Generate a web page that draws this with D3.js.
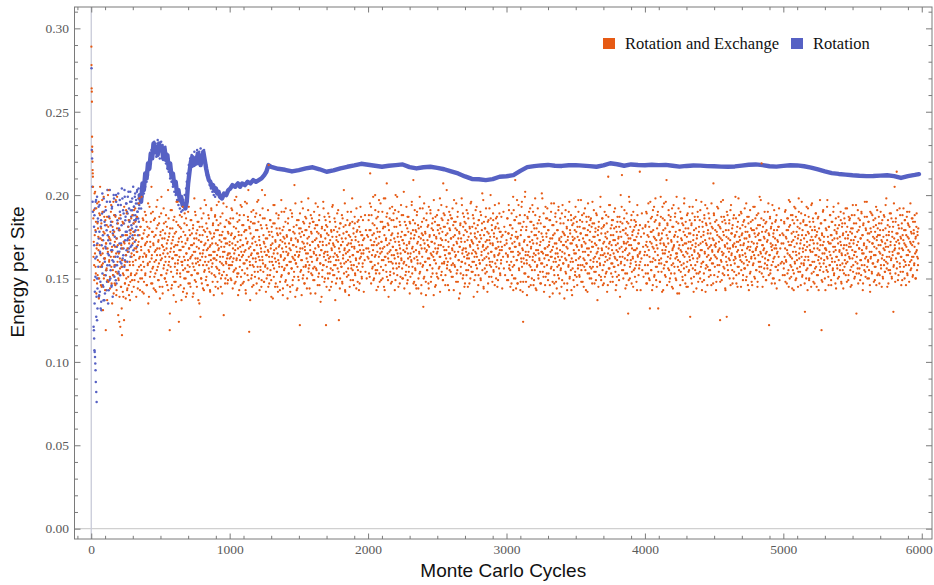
<!DOCTYPE html>
<html>
<head>
<meta charset="utf-8">
<script src="https://cdn.jsdelivr.net/npm/d3@7"></script>
<style>
  html, body { margin: 0; background: #fff; }
  svg { display: block; }
</style>
</head>
<body>
<svg id="chart" width="934" height="585"></svg>
<script>
// ---------------------------------------------------------------
// Data
// ---------------------------------------------------------------
const STEP = 3; // cycles between stored samples

// "Rotation and Exchange": first cycles, [cycle, energy]
const rotExFirst = [[1,0.289],[2,0.278],[3,0.264],[4,0.262],[5,0.256],[6,0.235],[7,0.229],[8,0.226],[9,0.220],[10,0.215],[11,0.213],[12,0.211],[13,0.205]];

// "Rotation and Exchange": energy x 1000, one sample every STEP cycles from the start cycle in the name
const rotEx_15 = [
186,172,158,201,165,179,153,192,168,147,183,161,175,196,150,170,188,157,164,180,
145,173,190,159,168,199,152,177,162,185,119,171,156,187,149,166,181,203,160,174,
151,178,163,194,147,169,184,155,176,141,188,158,172,146,197,165,143,180,153,170,
128,149,186,139,162,121,175,145,157,116,168,142,183,152,125,171,147,160,138,191,
155,176,144,166,151,185,140,173,158,148,179,153,165,142,188];
const rotEx_16 = [
163,191,149,176,202,157,184,141,170,195,152,180,167,138,189,160,205,174,146,183,
158,197,165,131,178,150,187,162,143,193,171,155,182,137,168,200,148,175,161,186,
144,173,190,157,166,135,181,152,196,163,178,147,169,187,154,140,174,199,160,183,
150,165,124,179,156,188,145,170,132,161,184,153,139,172,193,158,147,176,164,150,
189,143,168,155,181,146,171,160,137,177,152,186,163,149,174];

const rotEx_300 = [
171,158,183,164,149,176,192,161,168,153,187,166,144,179,172,157,198,163,150,181,
169,155,174,142,186,160,177,148,165,190,152,171,163,184,146,175,158,195,167,139,
180,160,172,154,189,205,164,147,178,157,170,185,151,166,143,176,161,193,155,168,
182,149,173,159,187,145,164,178,152,199,162,174,141,169,156,183,167,150,177,160,
188,153,171,146,165,203,158,175,163,119,180,157,168,144,191,162,173,151,185,166,
148,177,159,170,136,184,164,155,196,161,172,124,167,181,153,146,175,160,187,158,
169,142,178,163,150,189,156,171,139,165,182,154,174,161,147,193,168,157,176,145,
163,185,152,170,159,180,141,166,174,155,190,162,148,177,169,153,184,160,137,173,
158,181,165,127,172,150,186,163,176,144,167,179,154,197,160,171,149,183,158,175,
146,168,188,156,164,178,143,170,161,192,153,174,159,182,166,140,177,162,187,151,
171,157,185,164,148,179,167,196,155,173,160,183,145,169,176,152,189,163,158,128,
174,166,181,150,171,159,193,162,147,178,165,184,156,170];
const rotEx_301 = [
160,178,145,191,168,152,184,173,139,166,187,155,170,148,195,162,176,143,181,158,
167,199,150,174,163,185,141,157,179,170,153,188,164,146,172,181,159,135,176,166,
193,151,169,184,147,162,178,156,190,171,144,175,160,186,153,167,142,180,164,197,
157,172,149,183,168,138,176,161,189,152,170,145,179,165,192,158,174,150,163,184,
148,168,181,155,173,143,186,160,177,129,166,191,154,171,146,180,162,175,140,169,
187,157,164,148,178,196,153,170,159,182,145,174,163,188,151,167,180,137,172,160,
193,155,169,144,183,161,176,150,186,165,141,173,158,190,154,168,179,147,162,185,
170,152,177,164,139,182,157,171,198,149,166,188,159,174,145,179,162,153,184,168,
135,176,161,192,150,172,147,181,165,158,189,143,170,155,178,163,194,151,167,180,
146,173,160,186,154,169,142,177,164,191,157,171,148,183,162,175,152,166,188,145,
179,161,194,156,170,144,182,168,153,176,163,187,150,172,159,141,178,166,195,154,
169,181,147,174,160,185,152,171,164,149,177,158,183,162];

const rotEx_1000 = [
172,158,186,163,149,177,191,160,168,154,181,165,147,175,170,156,199,162,151,184,
168,153,176,143,188,161,173,146,166,193,155,170,164,182,148,178,159,196,167,141,
179,161,171,152,187,203,163,118,180,158,169,184,150,165,145,174,162,191,157,167,
183,151,172,160,189,147,165,179,154,197,163,175,143,170,157,182,166,149,203,161,
186,154,172,148,166,200,158,174,164,150,180,156,167,145,218,163,176,152,185,168,
149,178,160,171,138,183,165,156,194,162,173,147,168,180,154,145,176,161,188,159,
170,143,177,164,151,190,157,172,140,166,181,155,174,162,148,192,169,158,175,146,
164,186,153,171,160,179,142,167,173,156,189,163,149,178,170,154,206,161,139,174,
159,182,166,144,173,151,185,164,177,122,168,180,155,196,161,172,150,184,157,176,
147,169,187,157,165,179,144,171,160,191,154,175,158,183,167,141,178,163,186,152,
172,156,184,165,149,180,168,195,156,174,161,182,146,170,177,153,188,164,159,136,
175,167,180,151,172,158,192,163,148,179,166,185,122,170,157,181,164,150,176,162,
187,153,173,160,145,178,167,193,155,171,163,179,152,169,184,158,147,175,164,189,
156,172,161,125,180,166,150,183,170,157,174,148,186,162,177,203,159,168,143,182,
165,154,178,170,190,161,152,176,167,145,183,160,171,156,173,198,164,149,180,158,
169,187,153,175,162,144,178,166,184,155,172,159,181,147,167,193,163,176,151,170,
157,185,165,142,174,161,188,154,179,168,150,176,163];
const rotEx_1001 = [
165,183,150,176,192,158,171,144,186,162,174,155,197,167,148,180,161,189,153,172,
140,178,164,185,157,169,194,151,176,163,182,147,170,159,188,166,153,179,143,174,
161,195,156,172,185,149,168,181,160,137,177,164,190,152,171,158,183,146,175,167,
154,187,162,179,141,170,196,157,165,184,150,173,161,188,155,168,145,180,163,192,
159,176,148,171,186,157,169,142,182,164,174,152,191,166,178,147,160,185,155,170,
139,181,163,175,158,194,151,167,183,145,172,160,189,154,177,165,142,186,169,157,
180,148,173,163,197,152,168,179,144,175,161,190,156,171,184,149,166,176,158,138,
183,165,153,179,168,145,191,160,174,156,187,146,170,162,181,151,177,164,195,159,
169,143,185,157,172,163,149,180,166,189,154,175,161,140,178,168,192,152,171,183,
147,167,179,158,186,162,150,174,165,198,156,181,144,170,163,188,153,177,160,172,
184,149,166,190,157,173,141,182,164,155,178,162,193,151,169,185,146,172,159,176,
167,139,181,155,170,196,158,165,187,150,174,161,182,145,177,166,153,189,160,171,
143,184,163,156,179,168,148,175,194,152,170,158,186,165,137,181,161,173,150,178,
163,191,154,168,176,144,183,159,170,157,188,147,172,164,181,153,167,195,142,174,
160,178,151,185,166,156,171,140,182,163,175,149,190,158,169,184,155,164,177,146,
168,183,152,173,161,192,157,179,148,166,185,143,170,162,178,154,187,165,150,176,
159,173,167];

const rotEx_2000 = [
175,162,188,166,151,213,179,193,160,170,156,183,167,149,177,172,158,200,164,153,
186,170,155,178,145,190,163,175,148,168,195,157,172,166,184,150,180,161,198,169,
143,181,163,173,154,207,189,165,149,182,160,171,186,152,167,147,176,164,193,159,
169,185,153,174,162,191,149,167,181,156,199,165,177,145,172,159,184,168,151,175,
162,188,156,173,150,167,202,160,176,166,152,182,158,170,147,187,165,178,154,171,
184,163,151,174,161,194,168,157,179,209,166,148,176,183,155,146,178,163,190,161,
172,144,180,166,153,192,159,174,141,168,184,157,176,133,150,195,171,160,177,148,
166,189,155,173,162,182,144,169,175,158,191,165,151,180,172,156,186,163,140,176,
161,184,168,146,175,153,188,166,179,150,170,182,157,198,163,174,152,186,159,178,
149,207,189,159,167,181,146,173,162,193,156,177,160,185,169,143,180,165,188,154,
174,158,186,167,151,182,170,197,158,176,163,184,148,172,179,155,190,166,161,138,
177,169,182,153,174,160,194,165,150,181,168,187,145,172,159,183,166,152,178,164,
189,155,175,162,147,180,169,195,157,173,165,181,154,171,186,160,149,177,166,191,
158,174,163,142,182,168,152,185,172,159,176,150,188,164,179,201,161,170,145,184,
167,156,180,172,192,163,154,178,169,147,185,162,173,158,175,200,166,151,182,160,
171,189,155,177,164,146,180,168,186,157,174,161,183,149,169,195,165,178,153,172,
159,187,167,144,176,163,190,156,181,170,152,178,165];
const rotEx_2001 = [
168,185,153,179,195,160,173,147,188,164,176,157,199,170,150,182,163,191,155,174,
143,180,166,187,159,171,197,153,178,165,184,149,172,161,190,168,155,181,145,176,
163,198,158,174,187,151,170,183,162,139,179,166,192,154,173,160,185,148,177,169,
156,189,164,181,143,172,200,159,167,186,152,175,163,190,157,170,147,182,165,194,
161,178,150,173,188,159,171,144,184,166,176,154,193,168,180,149,162,187,157,172,
141,183,165,177,160,196,153,169,185,147,174,162,191,156,179,167,144,188,171,159,
182,150,175,165,199,154,170,181,146,177,163,192,158,173,186,151,168,178,160,140,
185,167,155,181,170,147,193,162,176,158,189,148,172,164,183,153,179,166,197,161,
171,145,187,159,174,165,151,182,168,191,156,177,163,142,180,170,194,154,173,185,
149,169,181,160,188,164,152,176,167,203,158,183,146,172,165,190,155,179,162,174,
186,151,168,192,159,175,143,184,166,157,180,164,195,153,171,187,148,174,161,178,
169,141,183,157,172,198,160,167,189,152,176,163,184,147,179,168,155,191,162,173,
145,186,165,158,181,170,150,177,196,154,172,160,188,167,139,183,163,175,152,180,
165,193,156,170,178,146,185,161,172,159,190,149,174,166,183,155,169,197,144,176,
162,180,153,187,168,158,173,142,184,165,177,151,192,160,171,186,157,166,179,148,
170,185,154,175,163,194,159,181,150,168,187,145,172,164,180,156,189,167,152,178,
161,175,169];

const rotEx_3000 = [
173,160,186,164,149,177,191,158,168,155,182,166,147,176,171,157,199,163,150,185,
169,209,175,144,187,161,174,147,166,194,156,171,165,183,148,179,160,196,168,142,
124,162,172,153,188,202,164,148,181,159,170,186,151,166,145,175,163,192,157,168,
184,150,173,161,190,146,165,180,155,198,164,176,143,171,158,183,167,150,178,162,
187,154,172,147,166,201,159,175,165,151,181,157,168,146,193,164,177,153,186,169,
149,179,161,172,139,185,166,156,195,163,174,148,169,182,155,147,177,162,189,160,
171,144,179,165,152,191,158,173,141,167,183,156,175,163,149,194,170,159,177,147,
165,187,154,172,161,181,143,168,175,157,190,164,150,179,171,155,185,162,140,175,
160,183,167,145,174,152,187,165,178,151,169,181,156,197,162,173,151,185,158,177,
148,170,188,158,166,180,145,172,161,192,155,176,159,184,168,142,179,164,187,153,
173,157,185,166,150,181,169,196,157,175,162,183,147,171,178,154,189,165,160,137,
176,168,181,152,173,159,193,164,149,180,167,186,146,171,158,182,165,151,177,163,
188,154,174,161,146,211,168,194,156,172,164,180,153,170,185,159,148,176,165,190,
157,173,162,143,181,167,151,184,171,158,175,149,187,163,178,200,160,169,212,183,
166,155,179,171,191,162,153,177,168,146,184,161,172,129,174,199,165,150,181,159,
170,188,154,176,163,145,179,167,185,156,173,160,182,148,168,194,164,177,152,171,
158,214,166,143,175,162,189,155,180,169,151,177,164];
const rotEx_3001 = [
171,149,186,163,177,194,156,168,182,145,174,160,189,152,180,166,143,191,158,172,
185,150,169,178,161,197,147,175,164,183,155,170,188,143,176,162,193,157,181,167,
148,184,159,173,199,153,166,179,161,140,187,164,175,151,190,158,172,184,146,169,
178,155,194,163,171,182,149,176,160,188,144,167,180,157,174,192,152,165,185,161,
170,147,183,159,177,166,198,154,173,189,142,162,181,168,151,186,175,158,192,164,
179,153,170,185,146,174,163,190,157,167,182,141,176,160,195,152,171,187,165,148,
184,168,157,179,163,193,150,174,161,186,155,172,145,189,166,178,159,183,170,138,
176,162,191,153,169,180,147,173,185,158,164,196,151,177,160,188,143,171,182,156,
173,149,186,165,179,154,193,161,170,184,146,175,158,190,167,152,181,163,177,197,
155,169,184,148,174,162,189,157,180,166,171,143,187,159,176,153,195,164,168,182,
150,178,161,186,156,172,147,183,169,160,191,154,175,163,180,149,170,188,157,166,
179,145,184,162,173,158,199,151,177,168,186,155,164,181,147,172,190,160,175,153,
169,183,142,178,165,187,156,171,162,194,148,176,159,182,167,151,185,173,157,180,
163,192,154,170,146,178,161,187,166,174,152,181,168,139,184,159,175,193,155,163,
179,150,172,186,158,167,144,180,171,189,153,176,164,183,149,170,196,157,174,161,
185,147,168,178,162,190,155,173,181,151,167,184,158,175,143,188,163,171,179,156,
165,182,160];

const rotEx_4000 = [
166,181,153,190,172,147,169,158,184,175,150,163,132,196,178,155,171,187,160,146,
179,168,193,152,174,161,185,149,170,157,188,164,132,176,159,182,148,173,199,162,
154,177,167,186,143,171,195,158,165,180,151,169,209,160,183,174,156,191,166,148,
178,162,187,153,172,145,181,168,159,194,170,157,176,189,150,165,184,163,141,175,
161,192,155,170,179,146,167,186,158,173,183,149,164,178,156,198,171,152,180,166,
145,175,160,189,168,154,177,163,185,127,172,158,182,147,170,193,162,176,151,167,
187,155,169,180,144,174,160,190,165,153,178,163,185,150,171,157,196,167,148,181,
160,176,153,188,166,173,142,183,158,170,192,157,179,164,151,186,169,155,177,162,
146,181,167,174,159,207,189,152,170,184,163,171,148,178,193,158,166,182,154,175,
168,125,180,161,187,149,173,164,197,157,176,152,185,169,143,179,160,127,171,188,
155,174,162,183,150,168,191,158,177,165,180,147,170,186,161,154,175,163,199,169,
152,178,166,145,184,172,157,188,164,173,161,190,155,176,167,182,149,170,159,185,
174,156,181,163,195,151,168,178,146,172,187,160,175,153,169,184,162,148,179,166,
158,193,171,164,177,150,186,167,155,180,169,145,176,189,160,173,154,182,166,197,
157,219,178,163,170,151,185,168,174,159,183,165,149,179,172,156,190,161,177,122,
164,186,153,171,181,158,167,194,150,175,162,179,168,147,184,170,157,188,165,173,
155,181,163,192,149,176,168,159,185,171,160,177,152];
const rotEx_4001 = [
158,182,170,147,189,164,176,153,195,167,181,149,172,160,186,155,178,143,169,191,
162,175,151,184,166,198,157,173,145,180,168,190,154,177,161,183,148,171,187,159,
174,142,193,165,179,156,170,185,152,167,196,160,176,146,182,163,171,188,155,178,
150,185,164,173,158,192,167,144,181,169,175,153,187,162,178,149,199,165,172,157,
183,168,141,179,160,190,154,174,166,186,151,170,182,159,195,163,176,147,184,171,
157,188,165,145,180,172,155,193,161,177,168,150,183,164,189,156,173,142,179,166,
185,158,171,197,153,176,162,187,148,170,181,164,154,191,167,175,159,143,184,172,
160,178,149,186,165,194,156,171,182,163,146,177,168,189,155,174,161,183,152,170,
195,159,166,180,147,173,188,164,157,179,169,143,185,162,176,151,192,167,172,158,
181,148,174,196,160,166,184,153,178,165,187,156,170,144,183,163,175,190,158,168,
152,179,166,185,161,173,146,194,164,177,155,182,169,150,188,171,159,176,162,186,
147,172,181,157,167,198,153,175,163,180,170,145,189,160,177,164,152,184,171,156,
192,165,178,149,174,161,187,158,169,183,143,176,167,191,154,180,163,172,146,185,
166,159,179,151,193,162,175,168,155,188,171,148,182,164,177,157,199,160,173,165,
186,153,170,145,181,167,175,156,190,162,178,149,184,166,158,173,161,195,152,176,
164,187,155,180,169,147,183,170,160,177,150,191,163,174,157,185,168,144,179,166,
172,158,181];

const rotEx_5000 = [
171,156,184,163,190,148,175,160,179,167,153,186,172,145,181,164,196,158,170,151,
177,162,188,155,173,143,183,169,159,192,166,150,178,161,185,174,154,198,165,180,
157,171,146,189,163,176,152,168,184,159,174,161,130,182,167,150,193,172,156,178,
163,187,149,170,158,181,166,145,175,195,160,173,184,154,168,147,179,164,189,157,
176,152,171,186,161,143,180,167,155,173,183,162,119,177,148,170,191,159,175,165,
150,185,168,157,179,163,197,154,172,146,181,166,158,188,171,149,176,162,184,155,
169,193,152,174,160,182,167,144,178,163,156,180,171,187,151,166,175,158,190,170,
147,164,183,155,177,168,153,186,161,174,192,159,170,148,181,165,176,152,169,185,
162,178,145,173,157,188,167,180,154,171,183,150,166,175,160,194,129,163,178,156,
172,186,153,168,181,149,174,161,190,158,165,176,147,183,170,155,187,162,151,179,
168,196,157,173,161,184,150,177,166,142,180,163,189,154,171,159,175,185,148,169,
157,178,164,182,146,173,191,160,176,153,187,166,152,179,170,158,183,145,172,164,
150,175,188,161,167,154,180,169,198,156,173,159,185,147,176,163,181,155,170,189,
162,151,178,166,184,130,158,174,205,168,153,186,172,214,160,177,149,182,165,171,
192,157,175,163,146,180,168,188,154,173,161,179,150,185,170,158,176,164,190,152,
183,167,174,148,181,160,195,171,156,177,163,186,152,172,179,158,169,184,150,175,
166,189,155,178,162,180];
const rotEx_5001 = [
176,159,183,152,168,191,161,174,147,186,165,179,155,197,170,150,182,163,188,157,
172,144,185,166,178,153,193,160,175,149,187,164,171,156,181,145,176,190,162,168,
154,183,173,159,196,151,179,166,185,158,170,147,188,163,176,155,182,169,143,192,
161,177,150,184,167,173,158,194,153,179,166,186,148,171,160,181,156,175,189,164,
145,178,168,152,187,163,174,159,197,170,157,183,149,176,165,190,154,172,161,185,
168,143,180,167,155,193,162,175,151,181,171,158,188,164,176,146,184,160,173,156,
190,166,153,179,169,147,186,163,177,158,174,150,195,161,182,167,155,172,185,148,
165,181,159,176,144,189,170,157,183,164,152,178,167,192,160,174,149,187,163,171,
186,155,169,180,146,177,162,194,158,173,164,188,151,175,166,183,153,170,159,191,
147,179,168,156,185,161,174,152,189,167,176,143,182,165,171,158,196,154,180,163,
169,187,150,177,160,184,155,172,146,190,162,178,166,153,188,171,159,181,164,174,
149,186,157,193,168,175,152,180,161,170,183,147,176,165,190,156,173,162,185,151,
179,168,158,187,154,171,194,160,176,163,145,182,169,155,178,166,189,153,172,161,
186,150,175,164,181,157,195,167,170,148,184,162,177,156,191,165,173,152,180,168,
159,188,154,174,163,183,149,176,167,192,157,171,185,160,179,146,169,187,153,175,
164,182,158,190,166,172,155,178,161,186,170,151,184,163,177,159,188,165,174,150,
181,167,163,176,158,171];

// "Rotation": first cycles, [cycle, energy]
const rotFirst = [[2,0.276],[4,0.227],[6,0.222],[8,0.205],[10,0.196],[12,0.190],
  [17,0.121],[19,0.119],[21,0.114],[23,0.107],[25,0.106],[27,0.103],[29,0.099],
  [31,0.095],[33,0.088],[36,0.082],[39,0.076],[42,0.125],[45,0.132]];

// "Rotation": energy x 1000, one sample every STEP cycles from the start cycle in the name
const rotCloud_20 = [
181,188,142,162,196,197,139,150,171,184,150,193,139,178,142,165,132,185,131,157,
201,146,173,137,190,137,160,182,152,168,143,196,158,176,135,187,164,149,203,171,
155,184,145,192,167,139,179,160,198,151,175,188,158,200,147,169,183,163,194,154,
180,166,197,152,186,171,159,204,176,162,191,168,183,157,199,173,187,164,195,178,
160,189,174,202,168,185,179,196,163,191,182,170,198,176,188,167,193,185,172,201,
179,195,186,169,203,190,176,198,184,194];
const rotCloud_21 = [
170,135,192,151,178,127,163,199,144,186,157,174,140,194,166,148,181,136,170,189,
153,176,145,198,162,184,141,169,191,155,179,148,203,165,173,143,187,158,196,150,
182,167,146,193,161,177,152,200,170,157,188,163,149,196,174,158,185,166,201,153,
179,171,190,160,194,168,182,157,198,176,164,189,172,203,161,185,178,195,167,190,
173,199,181,166,192,184,175,202,169,187,196,180,191,174,205,183,193,178,199,188,
185,197,181,202,190,195,186,204,192,198];

// "Rotation": energy x 1000 around the two early peaks, one sample every 5 cycles from cycle 360
const rotBand_360 = [
192,203,199,207,201,211,205,214,208,217,212,220,215,224,219,227,222,230,225,232,
226,231,223,229,233,225,230,222,228,232,226,230,221,227,224,229,219,225,216,221,
214,219,210,216,208,213,205,210,202,207,200,205,197,202,194,199,192,196,190,195,
191,197,193,200,195,204,208,213,211,218,215,222,219,224,217,222,220,226,218,223,
221,227,223,220,226,222,228,224,219,226,223,227,220,216,218,212,214,209,211,206,
208,204,206,202,204,200,202,199];

// "Rotation": settled curve, [cycle, energy]
const rotTrend = [
[350,0.200],[360,0.196],[370,0.207],[380,0.203],[390,0.213],[400,0.210],[410,0.219],[420,0.216],
[430,0.225],[440,0.222],[450,0.231],[460,0.226],[470,0.229],[480,0.224],[490,0.231],[500,0.227],
[510,0.229],[520,0.222],[530,0.228],[540,0.221],[550,0.224],[560,0.216],[570,0.219],[580,0.211],
[590,0.213],[600,0.206],[610,0.208],[620,0.201],[630,0.203],[640,0.197],[650,0.199],[660,0.194],
[670,0.195],[680,0.192],[690,0.196],[700,0.207],[710,0.214],[720,0.220],[730,0.223],[740,0.218],
[750,0.222],[760,0.219],[770,0.225],[780,0.221],[790,0.218],[800,0.224],[810,0.226],[820,0.221],
[830,0.216],[840,0.212],[850,0.209],[860,0.208],[870,0.205],[880,0.206],[890,0.203],[900,0.204],
[910,0.201],[920,0.202],[930,0.199],[945,0.198],[960,0.201],[975,0.200],[990,0.203],[1005,0.204],
[1020,0.206],[1040,0.205],[1060,0.207],[1075,0.205],[1090,0.207],[1110,0.206],[1130,0.208],[1150,0.207],
[1170,0.209],[1190,0.208],[1210,0.209],[1230,0.210],[1250,0.212],[1265,0.214],[1280,0.218],[1300,0.2170],
[1350,0.2158],[1400,0.2152],[1450,0.2142],[1500,0.2150],[1550,0.2160],[1600,0.2167],[1650,0.2155],[1700,0.2140],
[1750,0.2148],[1800,0.2160],[1850,0.2170],[1900,0.2178],[1950,0.2188],[2000,0.2182],[2050,0.2176],[2100,0.2170],
[2150,0.2176],[2200,0.2180],[2250,0.2184],[2300,0.2168],[2350,0.2160],[2400,0.2167],[2450,0.2170],[2500,0.2163],
[2550,0.2155],[2600,0.2142],[2650,0.2130],[2700,0.2112],[2750,0.2097],[2800,0.2095],[2850,0.2090],[2900,0.2096],
[2950,0.2110],[3000,0.2113],[3050,0.2120],[3100,0.2145],[3150,0.2168],[3200,0.2174],[3250,0.2178],[3300,0.2181],
[3350,0.2176],[3400,0.2175],[3450,0.2179],[3500,0.2180],[3550,0.2177],[3600,0.2174],[3650,0.2170],[3700,0.2178],
[3750,0.2191],[3800,0.2185],[3850,0.2176],[3900,0.2184],[3950,0.2181],[4000,0.2179],[4050,0.2182],[4100,0.2180],
[4150,0.2181],[4200,0.2176],[4250,0.2171],[4300,0.2175],[4350,0.2178],[4400,0.2177],[4450,0.2174],[4500,0.2173],
[4550,0.2171],[4600,0.2170],[4650,0.2172],[4700,0.2177],[4750,0.2182],[4800,0.2184],[4850,0.2180],[4900,0.2173],
[4950,0.2171],[5000,0.2175],[5050,0.2179],[5100,0.2178],[5150,0.2173],[5200,0.2165],[5250,0.2154],[5300,0.2142],
[5350,0.2132],[5400,0.2127],[5450,0.2123],[5500,0.2119],[5550,0.2116],[5600,0.2114],[5650,0.2115],[5700,0.2117],
[5750,0.2119],[5800,0.2114],[5850,0.2103],[5900,0.2114],[5950,0.2121],[5980,0.2126]];

const seriesNames = ["Rotation and Exchange", "Rotation"];
const seriesColors = ["#e65a14", "#5661c4"];
const yTicks = [0.00, 0.05, 0.10, 0.15, 0.20, 0.25, 0.30];
const xTicks = [0, 1000, 2000, 3000, 4000, 5000, 6000];

// ---------------------------------------------------------------
// Layout and scales
// ---------------------------------------------------------------
const frame = { left: 74.5, right: 932, top: 7, bottom: 539 };
const x = d3.scaleLinear().domain([-121, 6074]).range([frame.left, frame.right]);
const y = d3.scaleLinear().domain([-0.0062, 0.3128]).range([frame.bottom, frame.top]);

const svg = d3.select("#chart");
const serif = "'Liberation Serif','Times New Roman',serif";
const sans = "'Liberation Sans',Arial,Helvetica,sans-serif";
const frameColor = "#7a7a7a";

// origin lines
svg.append("line")
  .attr("x1", frame.left).attr("x2", frame.right)
  .attr("y1", y(0)).attr("y2", y(0))
  .attr("stroke", "#d0d0d0").attr("stroke-width", 1.3);
svg.append("line")
  .attr("x1", x(0)).attr("x2", x(0))
  .attr("y1", frame.top).attr("y2", frame.bottom)
  .attr("stroke", "#c8cad8").attr("stroke-width", 1.3);

// ---------------------------------------------------------------
// Marks
// ---------------------------------------------------------------
const sampled = (start, arr, step = STEP) => arr.map((v, i) => [start + i * step, v / 1000]);

const rotPoints = rotFirst.concat(
  sampled(20, rotCloud_20), sampled(21, rotCloud_21), sampled(360, rotBand_360, 5));
const rotExPoints = rotExFirst.concat(
  sampled(15, rotEx_15), sampled(16, rotEx_16),
  sampled(300, rotEx_300), sampled(301, rotEx_301),
  sampled(1000, rotEx_1000), sampled(1001, rotEx_1001),
  sampled(2000, rotEx_2000), sampled(2001, rotEx_2001),
  sampled(3000, rotEx_3000), sampled(3001, rotEx_3001),
  sampled(4000, rotEx_4000), sampled(4001, rotEx_4001),
  sampled(5000, rotEx_5000), sampled(5001, rotEx_5001));

const plot = svg.append("g");

plot.append("g").selectAll("circle").data(rotPoints).join("circle")
  .attr("cx", d => x(d[0])).attr("cy", d => y(d[1]))
  .attr("r", 1.25).attr("fill", seriesColors[1]);

plot.append("path").datum(rotTrend)
  .attr("d", d3.line().x(d => x(d[0])).y(d => y(d[1])))
  .attr("fill", "none").attr("stroke", seriesColors[1])
  .attr("stroke-width", 4.4).attr("stroke-linejoin", "round").attr("stroke-linecap", "round");

plot.append("g").selectAll("circle").data(rotExPoints).join("circle")
  .attr("cx", d => x(d[0])).attr("cy", d => y(d[1]))
  .attr("r", 1.15).attr("fill", seriesColors[0]);

// ---------------------------------------------------------------
// Frame and ticks
// ---------------------------------------------------------------
svg.append("rect")
  .attr("x", frame.left).attr("y", frame.top)
  .attr("width", frame.right - frame.left).attr("height", frame.bottom - frame.top)
  .attr("fill", "none").attr("stroke", frameColor).attr("stroke-width", 1);

const yMinor = d3.range(1, 32).map(k => k / 100).filter(v => Math.round(v * 100) % 5 !== 0);
const xMinor = d3.range(-100, 6001, 200).filter(v => v % 1000 !== 0 && v > -121);

function styleAxis(g) {
  g.select(".domain").remove();
  g.selectAll("line").attr("stroke", frameColor).attr("stroke-width", 1);
  g.selectAll("text").attr("fill", "#5a5a5a")
    .style("font-family", serif).style("font-size", "13.5px");
}

// left
svg.append("g").attr("transform", `translate(${frame.left},0)`)
  .call(d3.axisLeft(y).tickValues(yTicks).tickSize(-6).tickPadding(5.5).tickFormat(d3.format(".2f")))
  .call(styleAxis);
svg.append("g").attr("transform", `translate(${frame.left},0)`)
  .call(d3.axisLeft(y).tickValues(yMinor).tickSize(-3.5).tickFormat(""))
  .call(styleAxis);
// right
svg.append("g").attr("transform", `translate(${frame.right},0)`)
  .call(d3.axisRight(y).tickValues(yTicks).tickSize(-6).tickFormat(""))
  .call(styleAxis);
svg.append("g").attr("transform", `translate(${frame.right},0)`)
  .call(d3.axisRight(y).tickValues(yMinor).tickSize(-3.5).tickFormat(""))
  .call(styleAxis);
// bottom
const xAxisG = svg.append("g").attr("transform", `translate(0,${frame.bottom})`)
  .call(d3.axisBottom(x).tickValues(xTicks).tickSize(-5.5).tickPadding(5.5).tickFormat(d3.format("d")))
  .call(styleAxis);
// keep the last label inside the page
xAxisG.selectAll("text").filter(d => d === 6000).attr("dx", "-3px");
svg.append("g").attr("transform", `translate(0,${frame.bottom})`)
  .call(d3.axisBottom(x).tickValues(xMinor).tickSize(-3.2).tickFormat(""))
  .call(styleAxis);
// top
svg.append("g").attr("transform", `translate(0,${frame.top})`)
  .call(d3.axisTop(x).tickValues(xTicks).tickSize(-5.5).tickFormat(""))
  .call(styleAxis);
svg.append("g").attr("transform", `translate(0,${frame.top})`)
  .call(d3.axisTop(x).tickValues(xMinor).tickSize(-3.2).tickFormat(""))
  .call(styleAxis);

// ---------------------------------------------------------------
// Titles
// ---------------------------------------------------------------
svg.append("text")
  .attr("transform", "translate(24,272) rotate(-90)")
  .attr("text-anchor", "middle")
  .style("font-family", sans).style("font-size", "19px").attr("fill", "#111")
  .text("Energy per Site");

svg.append("text")
  .attr("x", (frame.left + frame.right) / 2).attr("y", 577)
  .attr("text-anchor", "middle")
  .style("font-family", sans).style("font-size", "19px").attr("fill", "#111")
  .text("Monte Carlo Cycles");

// ---------------------------------------------------------------
// Legend
// ---------------------------------------------------------------
const legendItems = [
  { name: seriesNames[0], color: seriesColors[0], x: 603 },
  { name: seriesNames[1], color: seriesColors[1], x: 791 }
];
const legend = svg.append("g");
legendItems.forEach(item => {
  legend.append("rect")
    .attr("x", item.x).attr("y", 38).attr("width", 12).attr("height", 11)
    .attr("fill", item.color);
  legend.append("text")
    .attr("x", item.x + 22).attr("y", 49)
    .style("font-family", serif).style("font-size", "16.5px").attr("fill", "#111")
    .text(item.name);
});
</script>
</body>
</html>
